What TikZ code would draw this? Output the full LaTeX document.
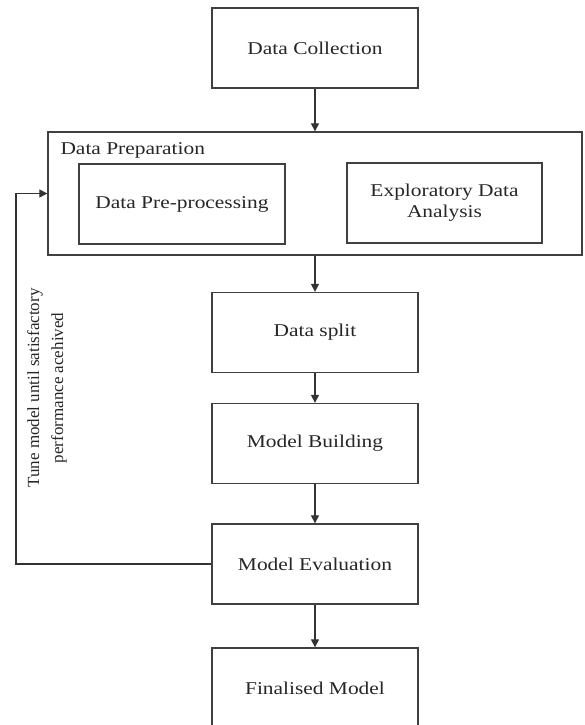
\documentclass[tikz,border=0pt]{standalone}
\usepackage{fontspec}
\setmainfont{Liberation Serif}[FakeStretch=1.19]
\newfontfamily\uprightserif{Liberation Serif}
\usetikzlibrary{positioning, arrows.meta}

\begin{document}
\begin{tikzpicture}[x=1pt, y=-1pt,
        stage/.style={rectangle, draw=black!75, line width=1.3pt, minimum width=206pt, minimum height=80pt, align=center, text=black!85, font=\fontsize{18}{21}\selectfont},
        group/.style={rectangle, draw=black!75, line width=1.3pt, minimum width=534pt, minimum height=123pt},
        flow/.style={-{Triangle[length=8pt, width=8pt]}, draw=black!80, line width=1.2pt},
        note/.style={text=black!85, align=center, font=\uprightserif\fontsize{17}{24}\selectfont}
    ]
        \useasboundingbox (0,0) rectangle (585,725);

        % Top stage
        \node[stage] (collect) at (315,48) {Data Collection};

        % Data preparation group
        \node[group] (prep) at (315,193.5) {};
        \node[anchor=west, text=black!85, font=\fontsize{18}{21}\selectfont] (preptitle) at (57,150) {Data Preparation};
        \node[stage] (preproc) at (182,204) {Data Pre-processing};
        \node[stage, minimum width=195pt] (eda) at (444.5,203) {Exploratory Data\\Analysis};

        % Lower stages
        \node[stage] (split) at (315,332.5) {Data split};
        \node[stage] (build) at (315,443.5) {Model Building};
        \node[stage] (eval) at (315,564) {Model Evaluation};
        \node[stage] (final) at (315,688) {Finalised Model};

        % Arrows
        \draw[flow] (collect) -- (prep);
        \draw[flow] (prep) -- (split);
        \draw[flow] (split) -- (build);
        \draw[flow] (build) -- (eval);
        \draw[flow] (eval) -- (final);

        % Feedback loop
        \coordinate (back) at (16,0);
        \draw[flow] (eval.west) -- (back |- eval.west) |- (prep.west);
        \node[note, rotate=90] (tune) at (47,388) {Tune model until satisfactory\\performance acehived};
    \end{tikzpicture}
\end{document}
